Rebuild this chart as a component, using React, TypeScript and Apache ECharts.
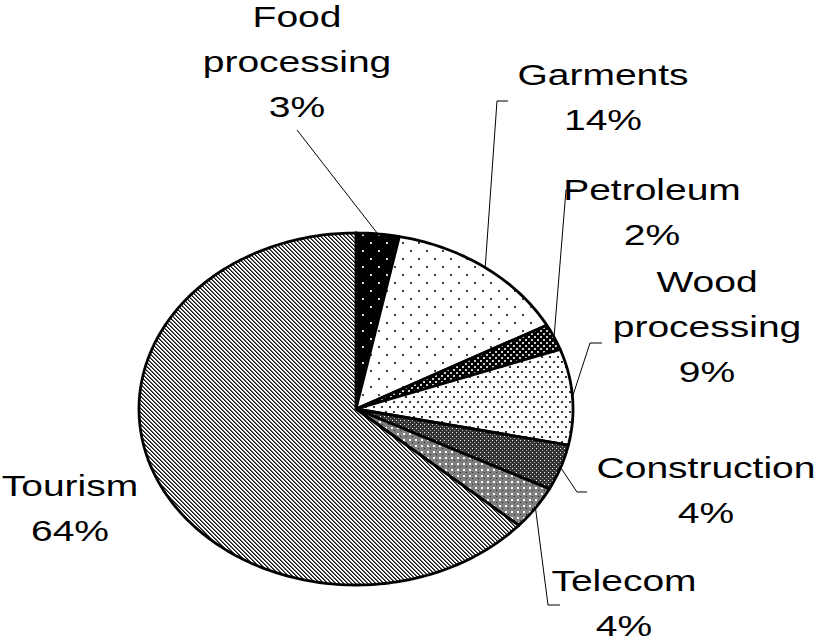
import React, { useEffect, useRef } from "react";
import * as echarts from "echarts";

const categories = ["Food processing", "Garments", "Petroleum", "Wood processing", "Construction", "Telecom", "Tourism"];
const labelNames = ["Food\nprocessing", "Garments", "Petroleum", "Wood\nprocessing", "Construction", "Telecom", "Tourism"];
const values = [3.2, 13.9, 2.4, 8.8, 4.2, 4.0, 63.5];

// layout (not data): label block centers and leader-line label-side points
const labelPos: [number, number][] = [
  [297, 62], [603, 97], [652, 212], [707, 327], [706, 490], [624, 603], [70, 508],
];
const leaderEnds: number[][][] = [
  [[297, 130]],
  [[497, 101], [508, 101]],
  [[566, 190], [578, 190]],
  [[590, 343], [602, 343]],
  [[577, 492], [587, 492]],
  [[548, 605], [560, 605]],
  [],
];

const CX = 356, CY = 409, RX = 217, RY = 176;

function makePattern(w: number, h: number, draw: (ctx: CanvasRenderingContext2D) => void) {
  const c = document.createElement("canvas");
  c.width = w;
  c.height = h;
  const ctx = c.getContext("2d")!;
  draw(ctx);
  return { image: c, repeat: "repeat" };
}

function buildPatterns() {
  const food = makePattern(16, 16, (g) => {
    g.fillStyle = "#000"; g.fillRect(0, 0, 16, 16);
    g.fillStyle = "#ddd"; g.fillRect(2, 2, 2, 2); g.fillRect(10, 10, 2, 2);
  });
  const garments = makePattern(16, 16, (g) => {
    g.fillStyle = "#fff"; g.fillRect(0, 0, 16, 16);
    g.fillStyle = "#444"; g.fillRect(2, 2, 2, 2); g.fillRect(10, 10, 2, 2);
  });
  const petroleum = makePattern(6, 6, (g) => {
    g.fillStyle = "#000"; g.fillRect(0, 0, 6, 6);
    g.fillStyle = "#ccc"; g.fillRect(0, 0, 2, 2); g.fillRect(3, 3, 2, 2);
  });
  const wood = makePattern(8, 10, (g) => {
    g.fillStyle = "#fff"; g.fillRect(0, 0, 8, 10);
    g.fillStyle = "#333"; g.fillRect(1, 1, 2, 2); g.fillRect(5, 6, 2, 2);
  });
  const construction = makePattern(4, 4, (g) => {
    g.fillStyle = "#333"; g.fillRect(0, 0, 4, 4);
    g.fillStyle = "#fff"; g.fillRect(0, 0, 1, 1);
    g.fillStyle = "#aaa"; g.fillRect(2, 2, 1, 1);
  });
  const telecom = makePattern(6, 6, (g) => {
    g.fillStyle = "#808080"; g.fillRect(0, 0, 6, 6);
    g.fillStyle = "#fff"; g.fillRect(1, 1, 2, 2);
    g.fillStyle = "#222"; g.fillRect(4, 4, 1, 1);
  });
  const tourism = makePattern(4, 4, (g) => {
    g.fillStyle = "#fff"; g.fillRect(0, 0, 4, 4);
    for (let i = 0; i < 4; i++) {
      g.fillStyle = "#111"; g.fillRect(i, i, 1, 1);
      g.fillStyle = "#666"; g.fillRect((i + 1) % 4, i, 1, 1);
    }
  });
  return [food, garments, petroleum, wood, construction, telecom, tourism];
}

export default function App() {
  const ref = useRef<HTMLDivElement>(null);
  useEffect(() => {
    document.body.style.margin = "0";
    const chart = echarts.init(ref.current!, null, { renderer: "svg" });
    const patterns = buildPatterns();
    const total = values.reduce((a, b) => a + b, 0);
    const starts: number[] = [];
    let acc = 0;
    values.forEach((v) => { starts.push(acc); acc += v; });

    const pt = (t: number) => [CX + RX * Math.sin(t), CY - RY * Math.cos(t)];

    chart.setOption({
      animation: false,
      backgroundColor: "#fff",
      series: [
        {
          type: "custom",
          name: "Share",
          coordinateSystem: "none",
          data: values.map((v, i) => ({ name: categories[i], value: [i, v] })),
          renderItem: (params: any, api: any) => {
            const i = params.dataIndex;
            const v = api.value(1);
            const a0 = (starts[i] / total) * Math.PI * 2;
            const a1 = ((starts[i] + v) / total) * Math.PI * 2;
            const n = Math.max(4, Math.ceil((a1 - a0) / 0.02));
            const pts: number[][] = [[CX, CY]];
            for (let k = 0; k <= n; k++) pts.push(pt(a0 + ((a1 - a0) * k) / n));
            const mid = pt((a0 + a1) / 2);
            const pct = Math.round((v / total) * 100 + 1e-9) + "%";
            const children: any[] = [
              {
                type: "polygon",
                shape: { points: pts },
                style: { fill: patterns[i], stroke: "#000", lineWidth: 2.8, lineJoin: "round" },
              },
            ];
            if (leaderEnds[i].length) {
              children.push({
                type: "polyline",
                shape: { points: [mid, ...leaderEnds[i]] },
                style: { stroke: "#000", lineWidth: 1, fill: null },
                z2: 5,
              });
            }
            children.push({
              type: "text",
              x: labelPos[i][0],
              y: labelPos[i][1],
              scaleX: 1.3,
              z2: 10,
              style: {
                text: labelNames[i] + "\n" + pct,
                fontSize: 30,
                lineHeight: 45,
                fontFamily: "Liberation Sans, Arial, sans-serif",
                fill: "#000",
                align: "center",
                verticalAlign: "middle",
              },
            });
            return { type: "group", children };
          },
        },
      ],
    });
    return () => chart.dispose();
  }, []);
  return <div ref={ref} style={{ width: 821, height: 641 }} />;
}
